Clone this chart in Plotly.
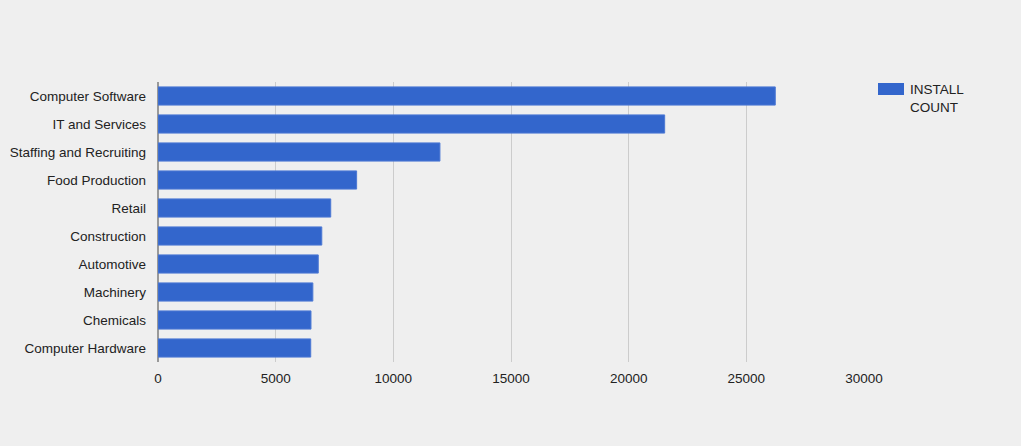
import plotly.graph_objects as go

# industries, top to bottom as shown
industries = ["Computer Software", "IT and Services", "Staffing and Recruiting",
              "Food Production", "Retail", "Construction", "Automotive",
              "Machinery", "Chemicals", "Computer Hardware"]
install_count = [26230, 21530, 11980, 8440, 7340, 6960, 6810, 6580, 6500, 6490]
x_ticks = [0, 5000, 10000, 15000, 20000, 25000, 30000]

bar_color = "#3366cc"
bg = "#efefef"

fig = go.Figure()
fig.add_trace(go.Bar(
    x=install_count, y=industries, orientation="h",
    marker=dict(color=bar_color, line=dict(color="#4d79d4", width=1)),
    width=0.65, name="INSTALL COUNT", showlegend=False,
))

fig.update_layout(
    width=1021, height=446,
    paper_bgcolor=bg, plot_bgcolor=bg,
    margin=dict(l=158, r=157, t=82, b=84),
    font=dict(family="Liberation Sans, Arial, sans-serif", size=13.5, color="#222222"),
    xaxis=dict(range=[0, 30000], tickvals=x_ticks,
               ticktext=[str(v) for v in x_ticks], showgrid=True,
               gridcolor="#cccccc", zeroline=True, zerolinecolor="#999999",
               zerolinewidth=2, ticks="", ticklabelstandoff=6,
               showline=False, automargin=False),
    yaxis=dict(categoryorder="array", categoryarray=industries,
               autorange="reversed", showgrid=False, ticks="",
               ticklabelstandoff=11, showline=False, automargin=False),
    bargap=0.35,
)

# legend drawn by hand to get the wide swatch
fig.add_shape(type="rect", xref="paper", yref="paper",
              x0=(878 - 158) / 706, x1=(904 - 158) / 706,
              y0=(362 - 95) / 280, y1=(362 - 83) / 280,
              fillcolor=bar_color, line=dict(width=0))
fig.add_annotation(text="INSTALL<br>COUNT", xref="paper", yref="paper",
                   x=(908 - 158) / 706, y=(362 - 80) / 280,
                   xanchor="left", yanchor="top", showarrow=False,
                   align="left", font=dict(size=13.5, color="#222222"))

fig.write_html("out.html", config={"displayModeBar": False},
               post_script="document.body.style.margin='0';")
